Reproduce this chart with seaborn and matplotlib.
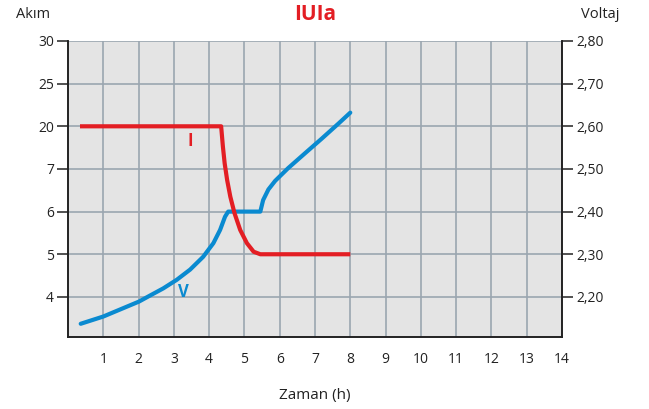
import numpy as np
import pandas as pd
import matplotlib
matplotlib.use("Agg")
import matplotlib.pyplot as plt
import seaborn as sns

# ---- data ----
current_ticks = [4, 5, 6, 7, 20, 25, 30]
current_tick_labels = ["4", "5", "6", "7", "20", "25", "30"]
voltage_ticks = [2.20, 2.30, 2.40, 2.50, 2.60, 2.70, 2.80]
voltage_tick_labels = ["2,20", "2,30", "2,40", "2,50", "2,60", "2,70", "2,80"]
x_ticks = list(range(1, 15))

i_time = [0.34, 4.34, 4.39, 4.44, 4.51, 4.60, 4.72, 4.88, 5.07, 5.26, 5.45, 8.0]
i_amp = [20, 20, 13.8, 8.7, 6.74, 6.35, 5.96, 5.57, 5.26, 5.06, 5.0, 5.0]

v_time = [0.36, 1.0, 2.01, 2.32, 2.70, 3.08, 3.46, 3.83, 4.12, 4.31, 4.45, 4.54,
          5.45, 5.53, 5.68, 5.87, 6.24, 6.72, 7.19, 7.66, 8.0]
v_volt = [2.137, 2.154, 2.189, 2.203, 2.220, 2.240, 2.264, 2.294, 2.326, 2.357,
          2.388, 2.40, 2.40, 2.427, 2.452, 2.472, 2.502, 2.537, 2.571, 2.606, 2.632]

RED = "#e31e24"
BLUE = "#0a8ad0"
BG = "#e4e4e4"
GRID = "#9aa6b0"
DARK = "#222222"

# piecewise-linear current scale (equal spacing between tick labels)
knots_a = [2, 3, 4, 5, 6, 7, 20, 25, 30, 35]
knots_p = [-2, -1, 0, 1, 2, 3, 4, 5, 6, 7]


def fwd(y):
    return np.interp(y, knots_a, knots_p)


def inv(p):
    return np.interp(p, knots_p, knots_a)


sns.set_style("white")
plt.rcParams["font.family"] = ["Open Sans", "DejaVu Sans"]

fig = plt.figure(figsize=(6.49, 4.09), dpi=100)
ax2 = fig.add_axes([68 / 649, 1 - 337 / 409, (562 - 68) / 649, (337 - 41) / 409])
ax = ax2.twinx()  # current axis on top
ax.yaxis.tick_left()
ax.yaxis.set_label_position("left")
ax2.yaxis.tick_right()

ax2.set_facecolor(BG)
ax.patch.set_visible(False)

df_v = pd.DataFrame({"t": v_time, "v": v_volt})
df_i = pd.DataFrame({"t": i_time, "i": i_amp})

sns.lineplot(data=df_v, x="t", y="v", ax=ax2, color=BLUE, lw=3.0, sort=False,
             solid_capstyle="round", solid_joinstyle="round", zorder=3)

ax.set_yscale("function", functions=(fwd, inv))
sns.lineplot(data=df_i, x="t", y="i", ax=ax, color=RED, lw=3.0, sort=False,
             solid_capstyle="butt", solid_joinstyle="round", zorder=3)

ax2.set_xlim(0, 14)
ax2.set_ylim(2.106, 2.80)
ax.set_ylim(inv(-0.94), 30)

ax2.set_xticks(x_ticks)
ax2.set_xticklabels([str(t) for t in x_ticks])
ax2.set_yticks(voltage_ticks)
ax2.set_yticklabels(voltage_tick_labels)
ax.set_yticks(current_ticks)
ax.set_yticklabels(current_tick_labels)
ax.minorticks_off()

ax2.grid(True, color=GRID, lw=1.2)
ax2.set_axisbelow(True)
ax.grid(False)

for a in (ax, ax2):
    a.set_xlabel("")
    a.set_ylabel("")
    a.spines["top"].set_visible(False)
    for s in ("left", "right", "bottom"):
        a.spines[s].set_color(DARK)
        a.spines[s].set_linewidth(1.2)
    a.tick_params(colors=DARK, labelsize=10, length=8, width=1.1, pad=2)
ax2.tick_params(axis="x", length=9)

ax.text(3.46, 15.5, "I", color=RED, fontsize=12, fontweight="bold",
        ha="center", va="center")
ax2.text(3.26, 2.212, "V", color=BLUE, fontsize=12, fontweight="bold",
         ha="center", va="center")

fig.text(315 / 649, 1 - 15 / 409, "IUIa", color=RED, fontsize=15,
         fontweight="bold", ha="center", va="center")
fig.text(33 / 649, 1 - 15 / 409, "Akım", color=DARK, fontsize=10.5,
         ha="center", va="center")
fig.text(600 / 649, 1 - 15 / 409, "Voltaj", color=DARK, fontsize=10.5,
         ha="center", va="center")
fig.text(315 / 649, 1 - 396 / 409, "Zaman (h)", color=DARK, fontsize=11,
         ha="center", va="center")

fig.savefig("out.png", dpi=100)
